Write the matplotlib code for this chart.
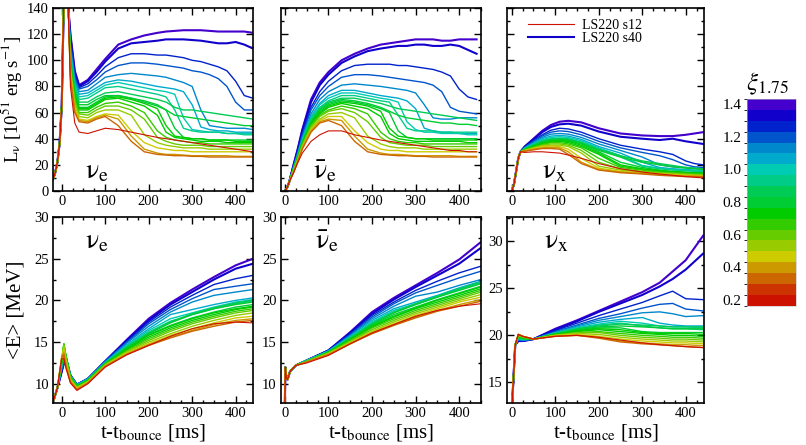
import numpy as np
import matplotlib
matplotlib.use("Agg")
import matplotlib.pyplot as plt
from matplotlib.colors import ListedColormap, BoundaryNorm
from matplotlib.colorbar import ColorbarBase
from matplotlib.ticker import MultipleLocator
from matplotlib.lines import Line2D

plt.rcParams["font.family"] = ["Liberation Serif", "DejaVu Serif"]
plt.rcParams["mathtext.fontset"] = "stix"

# compactness of each model (sets the colour)
xi = [1.40, 1.33, 1.26, 1.20, 1.13, 1.06, 1.00, 0.93, 0.87, 0.83,
      0.78, 0.74, 0.70, 0.66, 0.60, 0.53, 0.46, 0.40, 0.33, 0.20]

band_colors = ["#cc1100", "#cc3300", "#cc6600", "#cc9900", "#cccc00",
               "#99cc00", "#66cc00", "#33cc00", "#00cc00", "#00cc33",
               "#00cc55", "#00cc88", "#00ccb4", "#00aacc", "#0088cc",
               "#0055cc", "#0022cc", "#1100cc", "#4400cc"]
band_edges = np.linspace(0.165, 1.43, 20)
cbar_ticks = [0.2, 0.4, 0.6, 0.8, 1.0, 1.2, 1.4]

# ---- nu_e luminosity [1e51 erg/s]
lum_e_t0 = [-20, -15, -10, -5, 0, 5, 10, 15]
lum_e_v0 = [9, 14, 22, 36, 65, 150, 170, 140]
lum_t = [20, 30, 40, 60, 80, 100, 130, 160, 190, 220, 240, 260, 280, 300,
         320, 340, 360, 380, 400, 420, 440]
lum_e = [
    [120, 92, 81, 85, 93, 101, 112, 116, 119, 121, 122, 122.5, 123, 123, 123, 122.5, 122, 122, 122, 122, 121],
    [118, 90, 80, 84, 91, 99, 109, 113, 114, 115, 116, 116, 116, 115.5, 115, 114, 113, 113, 114, 112, 109],
    [115, 88, 79, 82, 88, 95, 102, 105, 105, 104, 104, 103, 102, 100, 99, 97, 95, 92, 84, 73, 71],
    [113, 87, 78, 80, 85, 91, 96, 98, 98, 97, 96, 95, 94, 92, 91, 89, 86, 80, 68, 62, 62],
    [110, 85, 76, 77, 82, 87, 89, 90, 89, 88, 87, 85, 83, 80, 62, 50, 49, 48, 48, 48, 47],
    [108, 83, 74, 75, 79, 83, 85, 84, 82, 80, 79, 78, 76, 66, 49, 47, 46, 46, 45, 45, 45],
    [106, 81, 72, 73, 77, 81, 83, 81, 79, 77, 76, 74, 56, 47, 46, 45, 45, 44, 44, 44, 44],
    [104, 79, 70, 71, 75, 79, 80, 78, 76, 74, 72, 62, 48, 46, 45, 45, 45, 44, 44, 43, 43],
    [102, 77, 68, 68, 72, 75, 76, 74, 72, 70, 68, 64, 62, 62, 61, 60, 59, 58, 57, 56, 55],
    [100, 75, 66, 66, 70, 73, 73, 71, 69, 66, 62, 58, 57, 56, 55, 54, 53, 52, 51, 50, 50],
    [99, 74, 64, 64, 68, 72, 73, 71, 68, 65, 62, 48, 41, 40, 40, 39, 39, 39, 39, 39, 39],
    [98, 73, 63, 63, 67, 71, 72, 70, 67, 63, 50, 42, 41, 40, 40, 39, 39, 39, 38, 38, 38],
    [97, 72, 62, 62, 66, 70, 71, 68, 65, 58, 45, 41, 40, 39, 38, 38, 38, 37, 37, 37, 37],
    [96, 70, 60, 60, 64, 67, 68, 65, 60, 46, 41, 39, 38, 37, 37, 36, 36, 36, 36, 36, 36],
    [94, 68, 59, 58, 62, 65, 65, 62, 55, 41, 38, 36, 35, 35, 35, 34, 34, 34, 34, 34, 34],
    [92, 66, 57, 56, 60, 62, 62, 58, 43, 37, 35, 34, 33, 33, 33, 32, 32, 32, 32, 32, 32],
    [90, 63, 55, 54, 57, 59, 58, 46, 37, 33, 32, 31, 31, 30, 30, 30, 30, 30, 30, 30, 30],
    [88, 61, 54, 53, 56, 58, 55, 42, 32, 29, 28, 28, 27.5, 27, 27, 27, 27, 27, 26.5, 26.5, 26.5],
    [86, 60, 53, 52, 55, 57, 50, 38, 30, 28, 27.5, 27, 27, 26.5, 26.5, 26, 26, 26, 26, 26, 26],
    [80, 52, 45, 44, 46, 48, 47, 45, 43, 41, 40, 39, 38, 37, 36, 35, 34, 33, 32, 31, 30],
]

# ---- anti nu_e luminosity
lum_a_t0 = [0, 5, 10]
lum_a_v0 = [0, 2.5, 7]
lum_a = [
    [20, 33, 47, 70, 83, 91, 100, 105, 109, 112, 113, 114, 115, 116, 116, 116, 115, 115, 116, 116, 116],
    [20, 32, 46, 68, 81, 89, 98, 103, 107, 109, 110, 111, 111, 112, 112, 111, 111, 112, 111, 108, 105],
    [19, 31, 44, 64, 76, 84, 92, 96, 97, 97, 97, 96, 96, 95, 94, 93, 91, 88, 78, 72, 70],
    [19, 30, 43, 62, 73, 80, 87, 89, 89, 88, 87, 86, 85, 84, 83, 81, 76, 64, 61, 60, 59],
    [18, 29, 41, 59, 70, 76, 81, 82, 81, 80, 79, 78, 77, 75, 66, 56, 55, 55, 56, 56, 56],
    [18, 28, 40, 57, 67, 73, 77, 77, 75, 73, 72, 71, 69, 63, 48, 46, 45, 45, 44, 44, 44],
    [18, 28, 39, 56, 66, 71, 75, 75, 73, 71, 70, 68, 53, 47, 45, 45, 44, 44, 44, 43, 43],
    [17, 27, 38, 55, 64, 69, 73, 73, 71, 69, 68, 58, 48, 46, 46, 46, 45, 45, 45, 45, 45],
    [17, 27, 38, 54, 63, 68, 71, 71, 69, 67, 65, 63, 62, 61, 60, 59, 58, 57, 56, 55, 54],
    [17, 27, 37, 53, 62, 67, 70, 69, 67, 64, 61, 58, 56, 55, 54, 53, 52, 52, 51, 51, 50],
    [17, 26, 37, 52, 61, 66, 69, 68, 66, 63, 60, 46, 41, 40, 40, 40, 40, 40, 40, 40, 40],
    [17, 26, 36, 52, 60, 65, 68, 67, 65, 61, 48, 42, 41, 40, 40, 39, 39, 39, 39, 39, 39],
    [16, 26, 36, 51, 59, 64, 67, 65, 63, 57, 44, 40, 39, 38, 38, 38, 38, 38, 38, 37, 37],
    [16, 25, 35, 50, 58, 62, 65, 63, 59, 45, 40, 38, 37, 37, 36, 36, 36, 36, 36, 36, 36],
    [16, 25, 35, 49, 57, 61, 63, 60, 53, 41, 37, 36, 35, 35, 35, 34, 34, 34, 34, 34, 34],
    [15, 24, 34, 48, 55, 59, 60, 56, 42, 36, 34, 33, 33, 33, 32, 32, 32, 32, 32, 32, 32],
    [15, 24, 33, 47, 54, 57, 57, 46, 37, 32, 31, 31, 30, 30, 30, 30, 30, 30, 30, 30, 30],
    [15, 23, 33, 46, 53, 55, 54, 42, 32, 29, 28, 28, 27.5, 27, 27, 27, 27, 27, 26.5, 26.5, 26.5],
    [14, 23, 32, 45, 52, 54, 50, 38, 30, 28, 27.5, 27, 27, 26.5, 26.5, 26, 26, 26, 26, 26, 26],
    [14, 22, 29, 38, 43, 46, 46, 43, 41, 39, 38, 37, 36, 35, 34, 33, 32, 31, 31, 30, 30],
]

# ---- nu_x luminosity
lum_x_t0 = [0, 5, 10, 15, 20]
lum_x_v0 = [0, 5, 15, 25, 30]
lum_x_t = [30, 50, 70, 90, 110, 130, 160, 200, 250, 300, 340, 370, 400, 420, 440]
lum_x = [
    [34, 40, 46, 50.5, 53, 53.7, 52.5, 48, 44, 42.5, 42, 42, 43, 44, 45],
    [34, 39.5, 45, 49, 51, 51.5, 50, 45.5, 41.5, 40, 39, 40, 38, 37, 36],
    [33.5, 38.5, 43, 46.5, 48, 47.5, 45, 40, 35, 32, 30, 28, 23, 21, 20],
    [33.5, 38, 42, 45, 46, 45.5, 43, 38, 33, 29.5, 27, 24, 20, 18.5, 18],
    [33, 37, 41, 43.5, 44, 43.5, 41, 36, 31, 26, 20, 18.5, 18, 17.5, 17],
    [33, 36.5, 40, 42, 42.5, 42, 39.5, 34, 29, 22, 18, 17, 16.5, 16, 16],
    [32.5, 36, 39, 41, 41.5, 41, 38.5, 33, 27, 19.5, 17.5, 16.5, 16, 15.5, 15.5],
    [32.5, 35.5, 38.5, 40, 40.5, 40, 37.5, 32, 26, 19, 17, 16, 15.5, 15, 15],
    [32, 35, 38, 39.5, 40, 39.5, 37, 32, 27, 23, 21, 19.5, 18, 17.5, 17],
    [32, 35, 37.5, 39, 39.5, 39, 36.5, 31, 26, 22, 20, 18.5, 17.5, 17, 16.5],
    [32, 34.5, 37, 38.5, 39, 38.5, 36, 30, 22, 18, 16, 15, 14.5, 14, 14],
    [31.5, 34, 36.5, 38, 38.5, 38, 35, 29, 20, 17, 15.5, 14.5, 14, 14, 13.5],
    [31.5, 34, 36, 37.5, 38, 37, 34, 28, 19, 16.5, 15, 14.5, 14, 13.5, 13.5],
    [31.5, 33.5, 35.5, 37, 37, 36, 33, 25, 18, 16, 14.5, 14, 13.5, 13, 13],
    [31, 33, 35, 36, 36, 35, 31, 22, 17, 15, 14, 13.5, 13, 12.5, 12.5],
    [31, 33, 34.5, 35, 35, 34, 29, 19, 16, 14.5, 13.5, 13, 12.5, 12, 12],
    [31, 32.5, 34, 34.5, 34, 32, 25, 17.5, 15, 14, 13, 12.5, 12, 12, 11.5],
    [30.5, 32, 33, 33.5, 33, 30, 22, 16.5, 14.5, 13.5, 12.5, 12, 11.5, 11.5, 11],
    [30.5, 31.5, 32.5, 32.5, 32, 28, 21, 16, 14, 13, 12, 11.5, 11, 11, 11],
    [29.5, 30, 30, 29.5, 29, 27.5, 25, 21, 17, 14.5, 13, 12, 11, 10.5, 10],
]

# ---- nu_e mean energy [MeV]
ene_e_t0 = [-20, -10]
ene_e_v0 = [7.8, 9.5]
ene_e_t = [0, 5, 10, 20, 35, 60, 100, 150, 200, 250, 300, 350, 400, 440]
ene_e = [
    [11.5, 12.5, 13.0, 11.0, 9.9, 10.6, 12.7, 15.3, 17.8, 19.7, 21.3, 22.8, 24.2, 25.0],
    [11.5, 12.5, 13.0, 11.0, 9.9, 10.6, 12.7, 15.2, 17.6, 19.5, 21.0, 22.5, 23.8, 24.4],
    [11.6, 12.6, 13.0, 11.0, 9.9, 10.6, 12.7, 15.1, 17.4, 19.2, 20.6, 21.9, 22.6, 23.0],
    [11.7, 12.8, 13.0, 11.0, 9.9, 10.6, 12.7, 15.0, 17.2, 18.9, 20.2, 21.3, 21.7, 22.0],
    [11.8, 13.0, 13.2, 11.0, 9.9, 10.6, 12.6, 14.9, 16.9, 18.6, 19.8, 20.6, 21.0, 21.3],
    [12.0, 13.3, 13.3, 11.0, 9.9, 10.6, 12.6, 14.7, 16.6, 18.3, 18.9, 19.5, 20.0, 20.3],
    [12.2, 13.6, 13.3, 10.9, 9.8, 10.5, 12.5, 14.6, 16.4, 17.8, 18.5, 19.2, 19.8, 20.1],
    [12.3, 13.9, 13.3, 10.9, 9.8, 10.5, 12.5, 14.5, 16.2, 17.5, 18.3, 19.0, 19.6, 19.9],
    [12.4, 14.2, 13.3, 10.9, 9.8, 10.5, 12.5, 14.4, 16.1, 17.4, 18.4, 19.1, 19.7, 20.0],
    [12.5, 14.4, 13.3, 10.8, 9.7, 10.4, 12.4, 14.3, 16.0, 17.3, 18.3, 19.0, 19.5, 19.8],
    [12.6, 14.6, 13.3, 10.8, 9.7, 10.4, 12.4, 14.2, 15.9, 17.0, 17.9, 18.6, 19.2, 19.5],
    [12.7, 14.7, 13.2, 10.8, 9.7, 10.4, 12.4, 14.2, 15.8, 16.9, 17.8, 18.5, 19.0, 19.3],
    [12.8, 14.8, 13.2, 10.7, 9.7, 10.3, 12.3, 14.1, 15.6, 16.7, 17.6, 18.3, 18.9, 19.2],
    [12.9, 14.8, 13.1, 10.7, 9.6, 10.3, 12.3, 14.0, 15.4, 16.5, 17.4, 18.1, 18.7, 19.0],
    [13.0, 14.7, 13.0, 10.6, 9.6, 10.3, 12.3, 13.9, 15.2, 16.3, 17.2, 17.9, 18.5, 18.8],
    [13.0, 14.5, 12.8, 10.5, 9.5, 10.2, 12.2, 13.8, 15.0, 16.0, 16.9, 17.6, 18.2, 18.5],
    [13.1, 14.2, 12.6, 10.4, 9.5, 10.2, 12.2, 13.7, 14.8, 15.8, 16.6, 17.3, 17.9, 18.1],
    [13.2, 13.8, 12.3, 10.3, 9.4, 10.1, 12.1, 13.6, 14.7, 15.6, 16.4, 17.1, 17.6, 17.8],
    [13.2, 13.5, 12.0, 10.2, 9.3, 10.1, 12.1, 13.5, 14.6, 15.5, 16.3, 16.9, 17.4, 17.6],
    [13.0, 13.0, 11.8, 10.1, 9.2, 10.0, 12.0, 13.5, 14.6, 15.7, 16.6, 17.2, 17.4, 17.3],
]

# ---- anti nu_e mean energy
ene_a_t0 = [0, 1, 3, 6, 12, 25]
ene_a_v0 = [7.7, 12.0, 10.8, 10.5, 11.5, 12.2]
ene_a_t = [50, 100, 150, 200, 250, 300, 350, 400, 450]
ene_a = [
    [12.8, 14.0, 16.2, 18.6, 20.3, 21.8, 23.3, 24.9, 27.0],
    [12.8, 14.0, 16.1, 18.4, 20.1, 21.6, 23.0, 24.4, 26.3],
    [12.8, 14.0, 16.0, 18.2, 19.8, 21.2, 22.3, 23.3, 24.1],
    [12.8, 14.0, 15.9, 18.0, 19.6, 20.9, 21.8, 22.7, 23.5],
    [12.8, 13.9, 15.8, 17.8, 19.3, 20.5, 21.0, 21.8, 22.5],
    [12.8, 13.9, 15.7, 17.6, 19.0, 19.8, 20.6, 21.5, 22.3],
    [12.8, 13.9, 15.6, 17.4, 18.8, 19.6, 20.5, 21.4, 22.2],
    [12.8, 13.9, 15.5, 17.3, 18.6, 19.5, 20.4, 21.3, 22.1],
    [12.7, 13.8, 15.5, 17.2, 18.6, 19.6, 20.5, 21.4, 22.2],
    [12.7, 13.8, 15.4, 17.1, 18.5, 19.5, 20.4, 21.2, 22.0],
    [12.7, 13.8, 15.4, 17.0, 18.3, 19.2, 20.1, 20.9, 21.7],
    [12.7, 13.8, 15.3, 16.9, 18.1, 19.1, 20.0, 20.8, 21.6],
    [12.7, 13.7, 15.3, 16.8, 18.0, 19.0, 19.8, 20.6, 21.4],
    [12.7, 13.7, 15.2, 16.7, 17.8, 18.8, 19.6, 20.4, 21.2],
    [12.7, 13.7, 15.1, 16.5, 17.6, 18.6, 19.4, 20.2, 21.0],
    [12.6, 13.6, 15.0, 16.3, 17.4, 18.4, 19.2, 20.0, 20.7],
    [12.6, 13.6, 14.9, 16.2, 17.2, 18.2, 19.0, 19.8, 20.4],
    [12.6, 13.5, 14.8, 16.1, 17.1, 18.0, 18.8, 19.5, 20.1],
    [12.6, 13.5, 14.8, 16.0, 17.0, 17.9, 18.7, 19.3, 19.9],
    [12.5, 13.4, 14.8, 16.1, 17.1, 18.1, 18.8, 19.3, 19.6],
]

# ---- nu_x mean energy
ene_x_t0 = [1, 4, 8]
ene_x_v0 = [12.8, 15.5, 19.0]
ene_x_t = [15, 25, 50, 100, 150, 200, 250, 300, 340, 370, 400, 440]
ene_x = [
    [19.4, 19.4, 19.6, 20.7, 21.6, 22.6, 23.6, 24.6, 25.6, 26.8, 28.0, 30.6],
    [19.4, 19.4, 19.6, 20.6, 21.5, 22.5, 23.4, 24.3, 25.2, 26.0, 27.0, 28.7],
    [19.5, 19.4, 19.6, 20.5, 21.3, 22.1, 22.8, 23.5, 24.2, 24.7, 23.9, 23.8],
    [19.5, 19.5, 19.6, 20.4, 21.1, 21.8, 22.3, 22.9, 23.3, 23.4, 22.8, 22.6],
    [19.6, 19.5, 19.6, 20.3, 21.0, 21.6, 22.0, 22.4, 22.5, 22.3, 22.0, 22.1],
    [19.6, 19.5, 19.6, 20.3, 20.9, 21.4, 21.7, 21.9, 21.3, 21.1, 21.0, 21.0],
    [19.7, 19.6, 19.6, 20.2, 20.8, 21.2, 21.5, 21.3, 21.0, 20.9, 20.9, 20.8],
    [19.7, 19.6, 19.6, 20.2, 20.7, 21.1, 21.3, 21.0, 20.8, 20.7, 20.7, 20.6],
    [19.8, 19.6, 19.6, 20.2, 20.7, 21.0, 21.2, 21.1, 21.0, 20.9, 20.9, 20.9],
    [19.8, 19.7, 19.6, 20.1, 20.6, 20.9, 21.0, 20.9, 20.8, 20.7, 20.7, 20.7],
    [19.9, 19.7, 19.6, 20.1, 20.5, 20.8, 20.8, 20.4, 20.3, 20.3, 20.3, 20.3],
    [19.9, 19.7, 19.6, 20.1, 20.5, 20.7, 20.6, 20.3, 20.2, 20.2, 20.2, 20.1],
    [20.0, 19.8, 19.6, 20.1, 20.4, 20.6, 20.4, 20.2, 20.1, 20.0, 20.0, 19.9],
    [20.0, 19.8, 19.6, 20.0, 20.3, 20.4, 20.2, 20.0, 19.9, 19.8, 19.8, 19.7],
    [20.0, 19.8, 19.6, 20.0, 20.3, 20.3, 20.0, 19.8, 19.7, 19.6, 19.6, 19.5],
    [20.1, 19.9, 19.6, 20.0, 20.2, 20.1, 19.8, 19.6, 19.5, 19.4, 19.4, 19.3],
    [20.1, 19.9, 19.6, 20.0, 20.1, 19.9, 19.6, 19.4, 19.3, 19.2, 19.2, 19.1],
    [20.1, 19.9, 19.6, 19.9, 20.0, 19.8, 19.4, 19.2, 19.1, 19.0, 19.0, 18.9],
    [20.1, 19.9, 19.6, 19.9, 20.0, 19.7, 19.3, 19.1, 19.0, 18.9, 18.8, 18.7],
    [20.1, 19.9, 19.6, 19.9, 20.0, 19.8, 19.5, 19.2, 19.0, 18.9, 18.8, 18.7],
]

cmap = ListedColormap(band_colors)
norm = BoundaryNorm(band_edges, cmap.N)


def draw_set(ax, t0, v0, t, rows):
    for k, row in enumerate(rows):
        lw = 1.0
        if k < 2:
            lw = 1.5
        elif k == len(rows) - 1:
            lw = 0.8
        ax.plot(list(t0) + list(t), list(v0) + list(row),
                color=cmap(norm(xi[k])), lw=lw, solid_joinstyle="round")


def style_axes(ax, xlim, ylim, ymaj, ymin, ylabels=True):
    ax.set_xlim(*xlim)
    ax.set_ylim(*ylim)
    ax.xaxis.set_major_locator(MultipleLocator(100))
    ax.xaxis.set_minor_locator(MultipleLocator(25))
    ax.yaxis.set_major_locator(MultipleLocator(ymaj))
    ax.yaxis.set_minor_locator(MultipleLocator(ymin))
    ax.tick_params(which="both", direction="in", top=True, right=True,
                   labelsize=10.5, width=1.0, pad=3)
    ax.tick_params(which="major", length=5)
    ax.tick_params(which="minor", length=2.5)
    for sp in ax.spines.values():
        sp.set_linewidth(1.2)
    if not ylabels:
        ax.tick_params(labelleft=False)


fig = plt.figure(figsize=(8.06, 4.45), dpi=100)

col_left = [0.0658, 0.3486, 0.6290]
col_w = [0.2481, 0.2481, 0.2444]
top_b, top_h = 0.5708, 0.4112
bot_b, bot_h = 0.0944, 0.4180

ax_le = fig.add_axes([col_left[0], top_b, col_w[0], top_h])
ax_la = fig.add_axes([col_left[1], top_b, col_w[1], top_h])
ax_lx = fig.add_axes([col_left[2], top_b, col_w[2], top_h])
ax_ee = fig.add_axes([col_left[0], bot_b, col_w[0], bot_h])
ax_ea = fig.add_axes([col_left[1], bot_b, col_w[1], bot_h])
ax_ex = fig.add_axes([col_left[2], bot_b, col_w[2], bot_h])

draw_set(ax_le, lum_e_t0, lum_e_v0, lum_t, lum_e)
draw_set(ax_la, lum_a_t0, lum_a_v0, lum_t, lum_a)
draw_set(ax_lx, lum_x_t0, lum_x_v0, lum_x_t, lum_x)
draw_set(ax_ee, ene_e_t0, ene_e_v0, ene_e_t, ene_e)
draw_set(ax_ea, ene_a_t0, ene_a_v0, ene_a_t, ene_a)
draw_set(ax_ex, ene_x_t0, ene_x_v0, ene_x_t, ene_x)

style_axes(ax_le, (-20, 440), (0, 140), 20, 10)
style_axes(ax_la, (-9, 450), (0, 140), 20, 10, ylabels=False)
style_axes(ax_lx, (-11, 442), (0, 140), 20, 10, ylabels=False)
style_axes(ax_ee, (-20, 440), (7.7, 30), 5, 2.5)
style_axes(ax_ea, (-9, 450), (7.7, 30), 5, 2.5)
style_axes(ax_ex, (-11, 442), (12.8, 32.6), 5, 2.5)

ax_le.set_ylabel(r"L$_{\mathrm{\nu}}$ [10$^{51}$ erg s$^{-1}$]", fontsize=13.5,
                 labelpad=2)
ax_ee.set_ylabel(r"<E> [MeV]", fontsize=15, labelpad=6)
for ax in (ax_ee, ax_ea, ax_ex):
    ax.set_xlabel(r"t-t$_{\rm bounce}$ [ms]", fontsize=15, labelpad=1)

# flavour labels
flav = [r"$\mathrm{\nu}_{\rm e}$", r"$\bar{\mathrm{\nu}}_{\rm e}$",
        r"$\mathrm{\nu}_{\rm x}$"]
for ax, lab, x in zip((ax_le, ax_la, ax_lx), flav, (0.16, 0.16, 0.18)):
    ax.text(x, 0.07, lab, transform=ax.transAxes, fontsize=20, va="baseline")
for ax, lab, x in zip((ax_ee, ax_ea, ax_ex), flav, (0.16, 0.17, 0.19)):
    ax.text(x, 0.83, lab, transform=ax.transAxes, fontsize=20, va="baseline")

handles = [Line2D([], [], color="#cc1100", lw=0.8),
           Line2D([], [], color="#1100cc", lw=1.5)]
ax_lx.legend(handles, ["LS220 s12", "LS220 s40"], loc="upper left",
             bbox_to_anchor=(0.08, 0.97), frameon=False, fontsize=10,
             handlelength=3.3, handletextpad=0.6, labelspacing=0.0,
             borderaxespad=0.0)

# colour bar
cax = fig.add_axes([0.9268, 0.313, 0.0608, 0.4645])
cb = ColorbarBase(cax, cmap=cmap, norm=norm, boundaries=band_edges,
                  ticks=cbar_ticks, spacing="proportional")
cb.outline.set_linewidth(0.4)
cb.outline.set_edgecolor("#bbbbbb")
cax.yaxis.set_ticks_position("left")
cax.tick_params(length=0, labelsize=11, pad=4)
cax.set_yticklabels([f"{v:.1f}" for v in cbar_ticks])
fig.text(0.925, 0.797, r"$\xi_{1.75}$", fontsize=18, va="baseline")

fig.savefig("out.png", dpi=100)
